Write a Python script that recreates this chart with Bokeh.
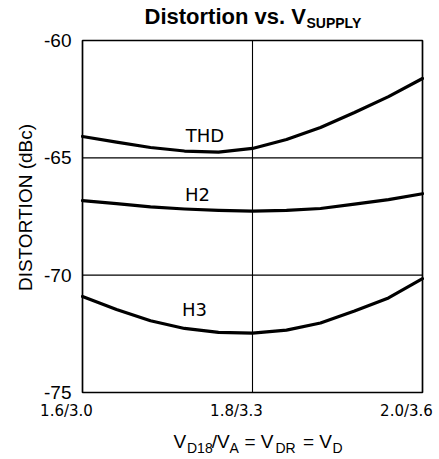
import math
from bokeh.plotting import figure
from bokeh.models import Label
from bokeh.embed import file_html
from bokeh.resources import INLINE

# ---- data ----
vd18 = [1.60, 1.64, 1.68, 1.72, 1.76, 1.80, 1.84, 1.88, 1.92, 1.96, 2.00]
thd = [-64.09, -64.33, -64.56, -64.71, -64.76, -64.60, -64.22, -63.71, -63.07, -62.39, -61.62]
h2 = [-66.82, -66.95, -67.09, -67.18, -67.24, -67.27, -67.24, -67.16, -66.97, -66.78, -66.53]
h3 = [-70.91, -71.46, -71.94, -72.27, -72.44, -72.47, -72.34, -72.04, -71.53, -70.97, -70.15]
x_ticks = [1.6, 1.8, 2.0]
x_tick_labels = ["1.6/3.0", "1.8/3.3", "2.0/3.6"]
y_ticks = [-75, -70, -65, -60]
y_tick_labels = ["-75", "-70", "-65", "-60"]

ARIAL = "Liberation Sans"
VERD = "DejaVu Sans"

# ---- layout (pixels of the plot box inside the canvas) ----
W, H = 438, 458
FL, FR, FT, FB = 82, 422, 40, 392
XMIN, XMAX = x_ticks[0], x_ticks[-1]
YMIN, YMAX = y_ticks[0], y_ticks[-1]
xs = (XMAX - XMIN) / (FR - FL)
ys = (YMAX - YMIN) / (FB - FT)


def px2x(px):
    return XMIN + (px - FL) * xs


def px2y(py):
    return YMAX - (py - FT) * ys


p = figure(width=W, height=H, x_range=(px2x(0), px2x(W)), y_range=(px2y(H), px2y(0)),
           output_backend="svg", toolbar_location=None, title=None,
           x_axis_location=None, y_axis_location=None,
           min_border_left=0, min_border_right=0, min_border_top=0, min_border_bottom=0)
p.background_fill_color = "white"
p.border_fill_color = "white"
p.outline_line_color = None
p.grid.visible = False

# grid lines (inner ticks)
xin = x_ticks[1:-1]
yin = y_ticks[1:-1]
p.segment(x0=xin, y0=[YMIN] * len(xin), x1=xin, y1=[YMAX] * len(xin),
          line_color="black", line_width=1.1)
p.segment(x0=[XMIN] * len(yin), y0=yin, x1=[XMAX] * len(yin), y1=yin,
          line_color="black", line_width=1.1)

# plot box
p.quad(left=[XMIN], right=[XMAX], bottom=[YMIN], top=[YMAX], fill_color=None,
       line_color="black", line_width=1.7)

# curves
for yv in (thd, h2, h3):
    p.line(vd18, yv, line_color="black", line_width=3.2, line_join="round", line_cap="round")


def add_text(x, y, text, font, size, align="left", baseline="middle", style="normal", angle=0.0):
    p.add_layout(Label(x=x, y=y, text=text, text_align=align, text_baseline=baseline,
                       text_font=font, text_font_size=size, text_font_style=style,
                       angle=angle, text_color="black"))


# y tick labels
for t, s in zip(y_ticks, y_tick_labels):
    add_text(XMIN - 11 * xs, t, s, ARIAL, "19px", align="right")

# x tick labels
for t, s in zip(x_ticks, x_tick_labels):
    add_text(t - 16 * xs, px2y(410.5), s, VERD, "15px", align="center")

# curve labels
add_text(px2x(204.5), px2y(134.8), "THD", VERD, "18px", align="center")
add_text(px2x(197), px2y(194), "H2", VERD, "18px", align="center")
add_text(px2x(194), px2y(309), "H3", VERD, "18px", align="center")

# y axis label
add_text(px2x(24.5), px2y(207), "DISTORTION (dBc)", ARIAL, "19px", align="center",
         angle=math.pi / 2)

# x axis label with subscripts
for s, px in [("V", 173), ("/V", 211.3), ("= V", 244), ("= V", 302.5)]:
    add_text(px2x(px), px2y(440.8), s, ARIAL, "19px")
for s, px in [("D18", 186.5), ("A", 229), ("DR", 275), ("D", 332)]:
    add_text(px2x(px), px2y(447.9), s, ARIAL, "14px")

# title with subscript
add_text(px2x(144), px2y(16), "Distortion vs. V", ARIAL, "22px", style="bold")
add_text(px2x(306), px2y(22.3), "SUPPLY", ARIAL, "14px", style="bold")

open("out.html", "w").write(file_html(p, INLINE))
